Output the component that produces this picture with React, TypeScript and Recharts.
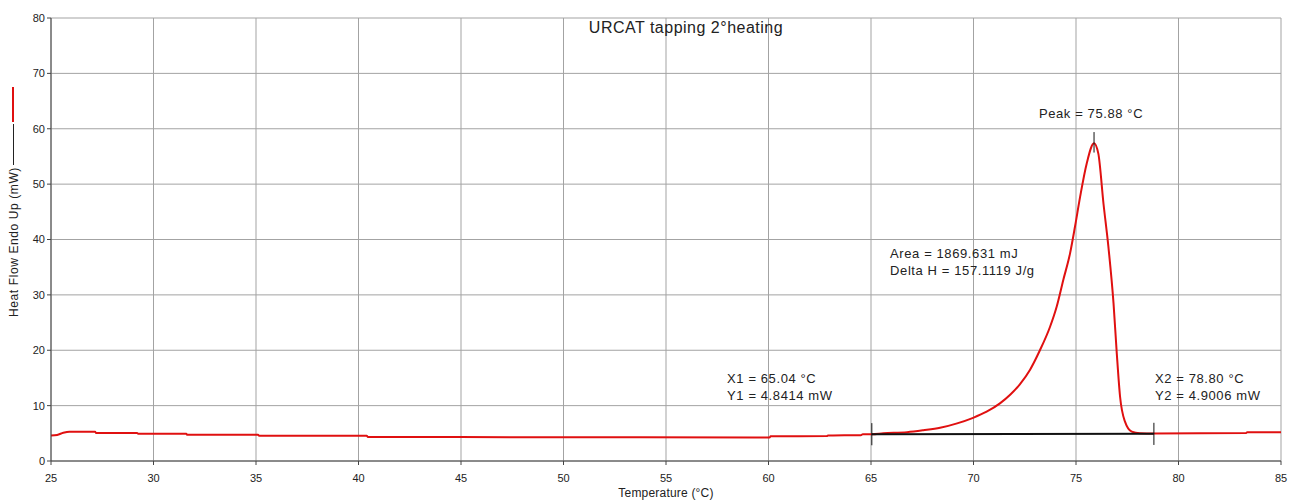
import React from "react";
import {
  LineChart, Line, XAxis, YAxis, CartesianGrid, ReferenceLine, ReferenceDot,
} from "recharts";

// temperature (°C) and heat flow (mW)
const TEMPS = [
  25.0, 25.3, 25.6, 25.9, 27.15, 27.2, 29.2, 29.25, 31.6, 31.65, 35.1, 35.15,
  40.4, 40.45, 50.0, 60.05, 60.1, 62.85, 62.9, 64.5, 64.6, 65.04, 65.6, 66.76,
  67.55, 68.37, 69.2, 69.98, 70.64, 71.29, 71.8, 72.27, 72.76, 73.24, 73.73,
  74.06, 74.38, 74.71, 74.95, 75.2, 75.52, 75.88, 76.09, 76.34, 76.58, 76.83,
  76.99, 77.15, 77.39, 77.72, 78.12, 78.8, 83.3, 83.35, 85.0,
];
const HEAT_FLOW = [
  4.6, 4.7, 5.1, 5.3, 5.3, 5.05, 5.05, 4.9, 4.9, 4.72, 4.72, 4.58,
  4.58, 4.35, 4.3, 4.25, 4.45, 4.5, 4.62, 4.65, 4.85, 4.84, 5.0, 5.2,
  5.55, 6.0, 6.8, 7.8, 8.9, 10.4, 12.0, 13.9, 16.5, 20.0, 24.2,
  27.9, 32.7, 37.5, 42.3, 47.7, 53.7, 57.4, 55.5, 46.5, 38.7, 28.5,
  19.4, 11.6, 7.1, 5.3, 5.0, 4.95, 5.05, 5.2, 5.2,
];

const X_TICKS = [25, 30, 35, 40, 45, 50, 55, 60, 65, 70, 75, 80, 85];
const Y_TICKS = [0, 10, 20, 30, 40, 50, 60, 70, 80];

// integration limits and peak
const X1 = 65.04, Y1 = 4.8414;
const X2 = 78.8, Y2 = 4.9006;
const PEAK_T = 75.88, PEAK_Y = 57.4;

const data = TEMPS.map((t, i) => ({ t, hf: HEAT_FLOW[i] }));

const FONT = "'Liberation Sans', Arial, sans-serif";

function textLabel(lines: string[], anchor: "start" | "middle", dx = 0) {
  return (props: any) => {
    const vb = props.viewBox || {};
    return (
      <text x={vb.x + dx} y={vb.y} textAnchor={anchor} fill="#222" fontSize={13}
        letterSpacing={0.6} fontFamily={FONT}>
        {lines.map((l, i) => (
          <tspan key={i} x={vb.x + dx} dy={i === 0 ? 0 : 17}>{l}</tspan>
        ))}
      </text>
    );
  };
}

function YLabel() {
  const cy = 242;
  return (
    <g>
      <text
        x={14} y={cy} transform={`rotate(-90, 14, ${cy})`} textAnchor="middle"
        dominantBaseline="central" fill="#222" fontSize={12} letterSpacing={0.6} fontFamily={FONT}
      >
        Heat Flow Endo Up (mW)
      </text>
      <line x1={13.5} x2={13.5} y1={124} y2={165} stroke="#222" strokeWidth={1} />
      <line x1={13} x2={13} y1={87} y2={122} stroke="#e01010" strokeWidth={2} />
    </g>
  );
}

function XLabel(props: any) {
  const vb = props.viewBox || { x: 51, y: 461, width: 1230 };
  return (
    <text x={vb.x + vb.width / 2} y={vb.y + 36} textAnchor="middle" fill="#222" fontSize={12}
      letterSpacing={0.2} fontFamily={FONT}>
      Temperature (°C)
    </text>
  );
}

export default function App() {
  return (
    <div style={{ position: "absolute", left: 0, top: 0, width: 1300, height: 500, background: "#fff" }}>
      <LineChart width={1300} height={500} data={data} margin={{ top: 18, right: 19, bottom: 0, left: 0 }}>
        <CartesianGrid stroke="#a3a3a3" strokeWidth={1} />
        <XAxis
          type="number" dataKey="t" domain={[25, 85]} ticks={X_TICKS} height={39}
          stroke="#444" tickSize={4} tickMargin={9} interval={0}
          tick={{ fill: "#222", fontSize: 11, fontFamily: FONT }}
          label={<XLabel />}
        />
        <YAxis
          type="number" domain={[0, 80]} ticks={Y_TICKS} width={51}
          stroke="#444" tickSize={4} tickMargin={2} interval={0}
          tick={{ fill: "#222", fontSize: 11, fontFamily: FONT }}
          label={<YLabel />}
        />
        <text x={686} y={33} textAnchor="middle" fill="#222" fontSize={16} letterSpacing={0.5} fontFamily={FONT}>
          URCAT tapping 2°heating
        </text>
        <Line
          type="monotone" dataKey="hf" stroke="#e01010" strokeWidth={2}
          dot={false} activeDot={false} isAnimationActive={false}
        />
        {/* integration baseline and limit marks */}
        <ReferenceLine segment={[{ x: X1, y: Y1 }, { x: X2, y: Y2 }]} stroke="#111" strokeWidth={2} />
        <ReferenceLine segment={[{ x: X1, y: Y1 - 2 }, { x: X1, y: Y1 + 2 }]} stroke="#111" strokeWidth={1} />
        <ReferenceLine segment={[{ x: X2, y: Y2 - 2 }, { x: X2, y: Y2 + 2 }]} stroke="#111" strokeWidth={1} />
        <ReferenceLine segment={[{ x: PEAK_T, y: PEAK_Y - 1.7 }, { x: PEAK_T, y: PEAK_Y + 2 }]} stroke="#111" strokeWidth={1} />
        <ReferenceDot x={PEAK_T} y={62} r={0} fill="none" stroke="none"
          label={{ content: textLabel(["Peak = 75.88 °C"], "middle", -3) }} />
        <ReferenceDot x={65.93} y={36.6} r={0} fill="none" stroke="none"
          label={{ content: textLabel(["Area = 1869.631 mJ", "Delta H = 157.1119 J/g"], "start") }} />
        <ReferenceDot x={57.98} y={14.1} r={0} fill="none" stroke="none"
          label={{ content: textLabel(["X1 = 65.04 °C", "Y1 = 4.8414 mW"], "start") }} />
        <ReferenceDot x={78.85} y={14.1} r={0} fill="none" stroke="none"
          label={{ content: textLabel(["X2 = 78.80 °C", "Y2 = 4.9006 mW"], "start") }} />
      </LineChart>
    </div>
  );
}
